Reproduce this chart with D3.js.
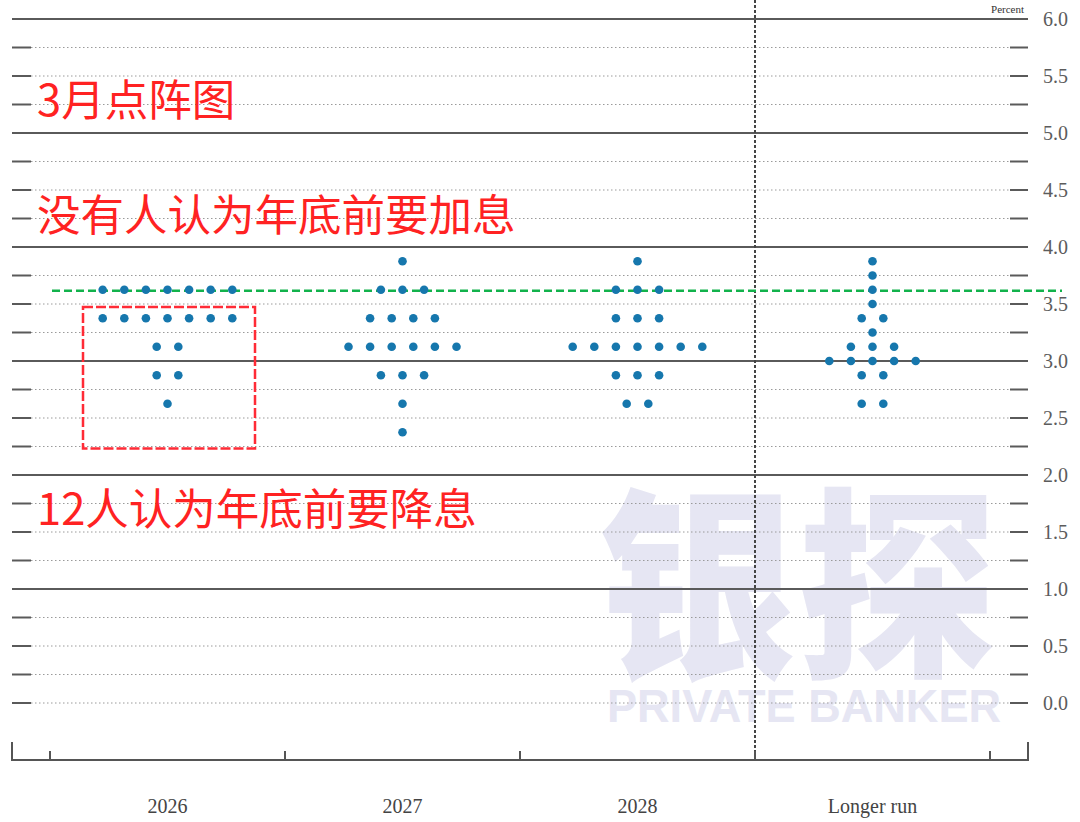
<!DOCTYPE html>
<html>
<head>
<meta charset="utf-8">
<script src="https://cdn.jsdelivr.net/npm/d3@7"></script>
<style>
  html, body { margin: 0; padding: 0; background: #fff; }
  svg { display: block; }
</style>
</head>
<body>
<svg id="chart" width="1080" height="822"></svg>
<script>
// FOMC dot plot, March projections (each dot = one participant)
const categories = ['2026', '2027', '2028', 'Longer run']

// [rate, number of participants]
const dots2026 = [[3.625, 7], [3.375, 7], [3.125, 2], [2.875, 2], [2.625, 1]]
const dots2027 = [[3.875, 1], [3.625, 3], [3.375, 4], [3.125, 6], [2.875, 3], [2.625, 1], [2.375, 1]]
const dots2028 = [[3.875, 1], [3.625, 3], [3.375, 3], [3.125, 7], [2.875, 3], [2.625, 2]]
const dotsLonger = [[3.875, 1], [3.75, 1], [3.625, 1], [3.5, 1], [3.375, 2], [3.25, 1], [3.125, 3], [3.0, 5], [2.875, 2], [2.625, 2]]

const yTicks = d3.range(0, 6.01, 0.5)
const gridValues = d3.range(0, 6.01, 0.25)
const currentRate = 3.625

const annotations = ['3月点阵图', '没有人认为年底前要加息', '12人认为年底前要降息']

const dotSpacing = 21.6
const dotRadius = 4.3
const baseY = 760

const svg = d3.select('#chart')

const x = d3.scaleBand()
	.domain(categories)
	.range([50, 990])

const y = d3.scaleLinear()
	.domain([0, 6])
	.range([703, 19])

// watermark (under everything)
const wm = svg.append('g').attr('fill', '#e6e6f3')
wm.append('text')
	.attr('x', 597).attr('y', 662)
	.attr('font-family', '"Noto Sans CJK SC"')
	.attr('font-weight', 900)
	.attr('font-size', 205)
	.attr('textLength', 400)
	.attr('lengthAdjust', 'spacingAndGlyphs')
	.text('银探')
wm.append('text')
	.attr('x', 607).attr('y', 722)
	.attr('font-family', '"Liberation Sans", Arial, sans-serif')
	.attr('font-weight', 'bold')
	.attr('font-size', 47)
	.attr('textLength', 394)
	.attr('lengthAdjust', 'spacingAndGlyphs')
	.text('PRIVATE BANKER')

// horizontal grid
const grid = svg.append('g')
gridValues.forEach((v) => {
	const yy = y(v)
	const major = v > 0 && Number.isInteger(v)
	if (major) {
		grid.append('line')
			.attr('x1', 12).attr('x2', 1028)
			.attr('y1', yy).attr('y2', yy)
			.attr('stroke', '#5a5a5a').attr('stroke-width', 2)
	} else {
		grid.append('line')
			.attr('x1', 31).attr('x2', 1010)
			.attr('y1', yy).attr('y2', yy)
			.attr('stroke', '#9a9a9a').attr('stroke-width', 1)
			.attr('stroke-dasharray', '1.5,2.5')
		grid.selectAll(null)
			.data([[12, 31], [1010, 1028]])
			.enter().append('line')
				.attr('x1', (d) => d[0]).attr('x2', (d) => d[1])
				.attr('y1', yy).attr('y2', yy)
				.attr('stroke', '#5a5a5a').attr('stroke-width', 2)
	}
})

// right-hand tick labels
svg.append('g')
	.selectAll('text')
	.data(yTicks)
	.enter().append('text')
		.attr('x', 1043)
		.attr('y', (d) => y(d) + 7)
		.attr('font-family', '"Liberation Serif", "Times New Roman", serif')
		.attr('font-size', 20)
		.attr('fill', '#5c5c5c')
		.text(d3.format('.1f'))

svg.append('text')
	.attr('x', 1024).attr('y', 13)
	.attr('text-anchor', 'end')
	.attr('font-family', '"Liberation Serif", serif')
	.attr('font-size', 11)
	.attr('fill', '#333')
	.text('Percent')

// separator before longer run
svg.append('line')
	.attr('x1', x('Longer run')).attr('x2', x('Longer run'))
	.attr('y1', 0).attr('y2', baseY)
	.attr('stroke', '#444').attr('stroke-width', 2)
	.attr('stroke-dasharray', '3,2')

// x axis
const axis = svg.append('g').attr('stroke', '#555').attr('stroke-width', 2)
axis.append('path')
	.attr('fill', 'none')
	.attr('d', `M12,742V${baseY}H1028V742`)
const edges = categories.map((c) => x(c)).concat([x.range()[1]])
axis.selectAll('.edge')
	.data(edges)
	.enter().append('line')
		.attr('class', 'edge')
		.attr('x1', (d) => d).attr('x2', (d) => d)
		.attr('y1', 751).attr('y2', baseY)

svg.append('g')
	.selectAll('text')
	.data(categories)
	.enter().append('text')
		.attr('x', (d) => x(d) + x.bandwidth() / 2)
		.attr('y', 813)
		.attr('text-anchor', 'middle')
		.attr('font-family', '"Liberation Serif", "Times New Roman", serif')
		.attr('font-size', 20)
		.attr('fill', '#444')
		.text((d) => d)

// dots
const series = [dots2026, dots2027, dots2028, dotsLonger]
const points = []
series.forEach((rows, i) => {
	const cx = x(categories[i]) + x.bandwidth() / 2
	rows.forEach(([rate, n]) => {
		for (let k = 0; k < n; k++) {
			points.push({ x: cx + (k - (n - 1) / 2) * dotSpacing, rate })
		}
	})
})

// current rate marker
svg.append('line')
	.attr('x1', 52).attr('x2', 1062)
	.attr('y1', y(currentRate) + 1).attr('y2', y(currentRate) + 1)
	.attr('stroke', '#12b24c').attr('stroke-width', 2.5)
	.attr('stroke-dasharray', '8,4')

svg.append('g')
	.selectAll('circle')
	.data(points)
	.enter().append('circle')
		.attr('cx', (d) => d.x)
		.attr('cy', (d) => y(d.rate))
		.attr('r', dotRadius)
		.attr('fill', '#1677ad')

// highlight box around 2026 cuts
svg.append('rect')
	.attr('x', 83).attr('y', y(3.5) + 3)
	.attr('width', 172).attr('height', y(2.25) - y(3.5) - 1)
	.attr('fill', 'none')
	.attr('stroke', '#ff2b36').attr('stroke-width', 2.5)
	.attr('stroke-dasharray', '10,3')

// red annotations
svg.append('g')
	.selectAll('text')
	.data(annotations)
	.enter().append('text')
		.attr('x', 37)
		.attr('y', (d, i) => [116, 231, 525][i])
		.attr('font-family', '"Noto Sans CJK SC", sans-serif')
		.attr('font-size', 43.5)
		.attr('fill', '#ff2222')
		.text((d) => d)
</script>
</body>
</html>
